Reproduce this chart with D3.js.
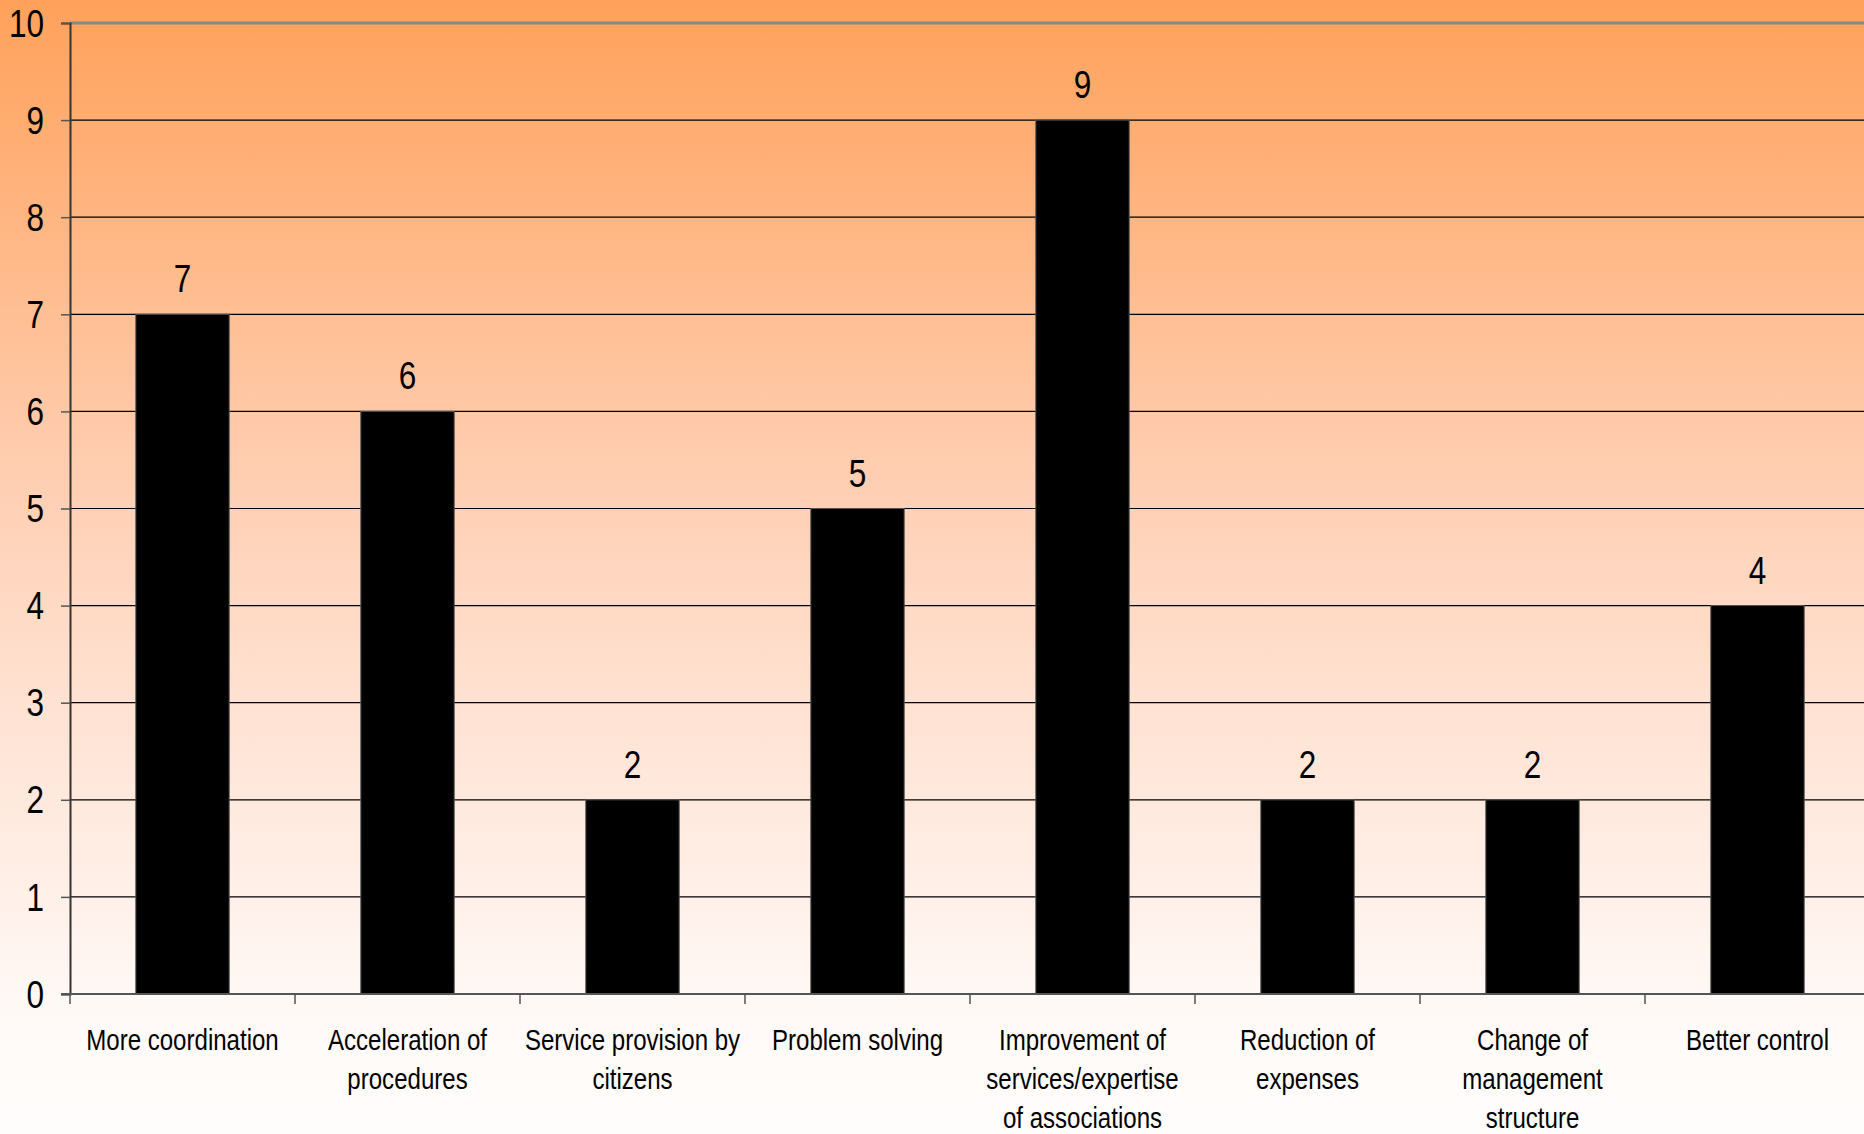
<!DOCTYPE html>
<html>
<head>
<meta charset="utf-8">
<script src="https://cdn.jsdelivr.net/npm/d3@7"></script>
<style>
  html, body { margin: 0; padding: 0; }
  body { width: 1864px; height: 1134px; overflow: hidden; }
  text { font-family: "Liberation Sans", Arial, sans-serif; fill: #000; }
</style>
</head>
<body>
<svg id="chart" width="1864" height="1134"></svg>
<script>
const categories = [
  "More coordination",
  "Acceleration of procedures",
  "Service provision by citizens",
  "Problem solving",
  "Improvement of services/expertise of associations",
  "Reduction of expenses",
  "Change of management structure",
  "Better control"
];
const categoryLines = [
  ["More coordination"],
  ["Acceleration of", "procedures"],
  ["Service provision by", "citizens"],
  ["Problem solving"],
  ["Improvement of", "services/expertise", "of associations"],
  ["Reduction of", "expenses"],
  ["Change of", "management", "structure"],
  ["Better control"]
];
const values = [7, 6, 2, 5, 9, 2, 2, 4];
const yTicks = [0, 1, 2, 3, 4, 5, 6, 7, 8, 9, 10];

const W = 1864, H = 1134;
const margin = { left: 70 };
const plotW = 1800;
const NARROW = 0.83;
const svg = d3.select("#chart");

const defs = svg.append("defs");
const grad = defs.append("linearGradient").attr("id", "bg")
  .attr("x1", 0).attr("y1", 0).attr("x2", 0).attr("y2", 1);
[[0, "#FFA15A"], [0.18, "#FFB47F"], [0.4, "#FFCCAE"], [0.6, "#FFE0CF"], [0.8, "#FFF1EA"], [0.9, "#FFFAF7"], [1, "#FFFDFC"]]
  .forEach(([o, c]) => grad.append("stop").attr("offset", o).attr("stop-color", c));
svg.append("rect").attr("width", W).attr("height", H).attr("fill", "url(#bg)");

const x = d3.scaleBand().domain(categories).range([margin.left, margin.left + plotW]).paddingInner(0.585).paddingOuter(0.2925);
const xTickScale = d3.scaleLinear().domain([0, categories.length]).range([margin.left, margin.left + plotW]);
const y = d3.scaleLinear().domain([0, 10]).range([994, 23]);

// gridlines
svg.append("g").selectAll("line").data(yTicks.filter(d => d > 0)).join("line")
  .attr("x1", margin.left).attr("x2", W)
  .attr("y1", d => y(d)).attr("y2", d => y(d))
  .attr("stroke", d => d === 10 ? "#888" : "#000")
  .attr("stroke-width", d => d === 10 ? 3 : 1.2);

// y axis (lines from d3 axis, labels condensed)
const yAxis = d3.axisLeft(y).tickValues(yTicks).tickSize(9).tickFormat("");
const gy = svg.append("g").attr("transform", `translate(${margin.left},0)`).call(yAxis);
gy.select(".domain").attr("stroke", "#333").attr("stroke-width", 2);
gy.selectAll(".tick line").attr("stroke", "#555").attr("stroke-width", 1.5);
svg.append("g").selectAll("text").data(yTicks).join("text")
  .attr("text-anchor", "end")
  .attr("font-size", 38)
  .attr("dy", "0.36em")
  .attr("transform", d => `translate(44,${y(d)}) scale(${NARROW},1)`)
  .text(d => d);

// bars
svg.append("g").selectAll("rect").data(values).join("rect")
  .attr("x", (d, i) => x(categories[i]))
  .attr("y", d => y(d))
  .attr("width", x.bandwidth())
  .attr("height", d => y(0) - y(d))
  .attr("fill", "#000")
  .attr("stroke", "#555").attr("stroke-width", 1);

// x axis
const gx = svg.append("g");
gx.append("line").attr("x1", margin.left - 9).attr("x2", W).attr("y1", y(0)).attr("y2", y(0))
  .attr("stroke", "#555").attr("stroke-width", 2);
gx.selectAll("line.tk").data(d3.range(categories.length + 1)).join("line").attr("class", "tk")
  .attr("x1", d => xTickScale(d)).attr("x2", d => xTickScale(d))
  .attr("y1", y(0)).attr("y2", y(0) + 10)
  .attr("stroke", "#555").attr("stroke-width", 1.5);

// value labels
svg.append("g").selectAll("text").data(values).join("text")
  .attr("text-anchor", "middle")
  .attr("font-size", 38)
  .attr("transform", (d, i) => `translate(${x(categories[i]) + x.bandwidth() / 2},${y(d) - 22}) scale(${NARROW},1)`)
  .text(d => d);

// category labels
const lab = svg.append("g").selectAll("text").data(categoryLines).join("text")
  .attr("text-anchor", "middle")
  .attr("font-size", 29)
  .attr("transform", (d, i) => `translate(${x(categories[i]) + x.bandwidth() / 2},1049.5) scale(${NARROW},1)`);
lab.selectAll("tspan").data(d => d).join("tspan")
  .attr("x", 0).attr("y", (d, j) => j * 39.5).text(d => d);
</script>
</body>
</html>
